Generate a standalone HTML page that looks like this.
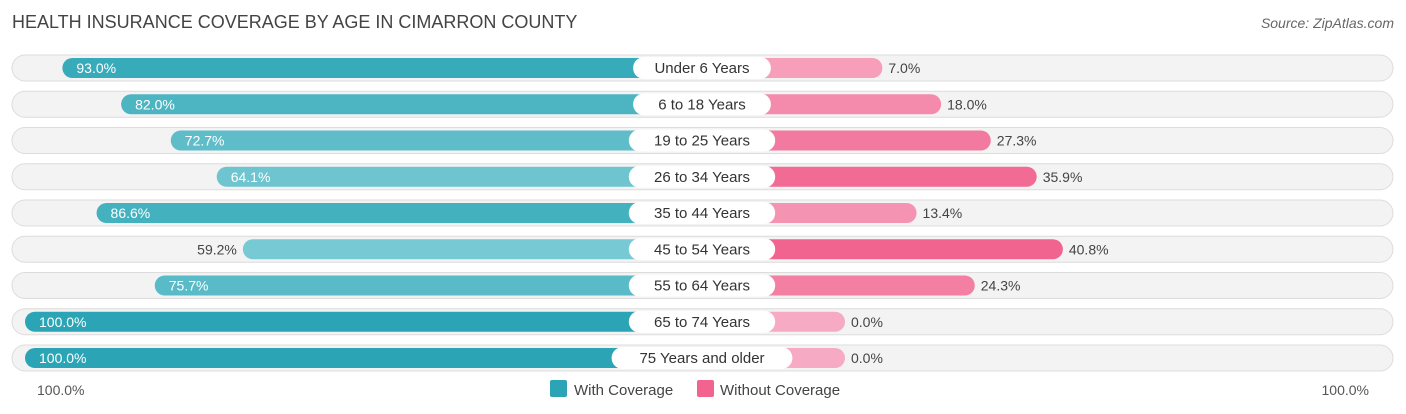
<!DOCTYPE html>
<html><head><meta charset="utf-8"><style>
body{margin:0;background:#fff;font-family:"Liberation Sans",sans-serif;}
#c{position:relative;width:1406px;height:414px;overflow:hidden;}
</style></head><body>
<div id="c">
<svg id="s" width="1406" height="414">
<text x="12" y="28" font-size="18" fill="#444">HEALTH INSURANCE COVERAGE BY AGE IN CIMARRON COUNTY</text>
<text x="1394" y="28" font-size="14" fill="#666" font-style="italic" text-anchor="end">Source: ZipAtlas.com</text>
<text x="37" y="395" font-size="14" fill="#555">100.0%</text>
<text x="1369" y="395" font-size="14" fill="#555" text-anchor="end">100.0%</text>
<rect x="550" y="380" width="17" height="17" rx="2" fill="#2ba5b5"/>
<text x="574" y="395" font-size="15" fill="#444">With Coverage</text>
<rect x="697" y="380" width="17" height="17" rx="2" fill="#f0648f"/>
<text x="720" y="395" font-size="15" fill="#444">Without Coverage</text>
<g id="rows"></g>
</svg>
</div>
<script>
const categories=["Under 6 Years","6 to 18 Years","19 to 25 Years","26 to 34 Years","35 to 44 Years","45 to 54 Years","55 to 64 Years","65 to 74 Years","75 Years and older"];
const withCoverage=[93.0,82.0,72.7,64.1,86.6,59.2,75.7,100.0,100.0];
const withoutCoverage=[7.0,18.0,27.3,35.9,13.4,40.8,24.3,0.0,0.0];
const NS="http://www.w3.org/2000/svg";
const g=document.getElementById('rows');
const center=702, leftOrigin=559, rightOrigin=845, scale=5.34;
const y0=68, step=36.25;
function xL(v){return leftOrigin-v*scale;}
function xR(v){return rightOrigin+v*scale;}
function mix(a,b,t){return 'rgb('+a.map((c,i)=>Math.round(c+(b[i]-c)*t)).join(',')+')';}
function el(tag,attrs){const e=document.createElementNS(NS,tag);for(const k in attrs)e.setAttribute(k,attrs[k]);g.appendChild(e);return e;}
categories.forEach((cat,i)=>{
  const cy=y0+i*step;
  const tr=el('rect',{x:12,y:cy-13,width:1381,height:26,rx:13,fill:'#f3f3f3',stroke:'#dcdcdc'});
  
  
  const wv=withCoverage[i], nv=withoutCoverage[i];
  const tw=Math.min(1,Math.max(0,(wv-55)/45));
  const lx=xL(wv);
  const lb=el('rect',{x:lx,y:cy-10,width:center-lx,height:20,rx:10,fill:mix([127,205,214],[43,165,181],tw)});
  
  
  const tn=Math.min(1,Math.max(0,nv/40));
  const rx=xR(nv);
  const rb=el('rect',{x:center,y:cy-10,width:rx-center,height:20,rx:10,fill:mix([247,170,195],[240,100,143],tn)});
  
  
  const inside=wv>60;
  const lt=el('text',{x:inside?lx+14:lx-6,y:cy+5,'font-size':14,fill:inside?'#fff':'#444','text-anchor':inside?'start':'end'});
  lt.textContent=wv.toFixed(1)+'%';
  
  
  const rt=el('text',{x:rx+6,y:cy+5,'font-size':14,fill:'#444'});
  rt.textContent=nv.toFixed(1)+'%';
  
  
  const w=cat.length*8.6+26;
  const pill=el('rect',{x:center-w/2,y:cy-11,width:w,height:22,rx:11,fill:'#fff'});
  
  
  const ct=el('text',{x:center,y:cy+5,'font-size':15,fill:'#333','text-anchor':'middle'});
  ct.textContent=cat;
  
  
});
</script>
</body></html>
